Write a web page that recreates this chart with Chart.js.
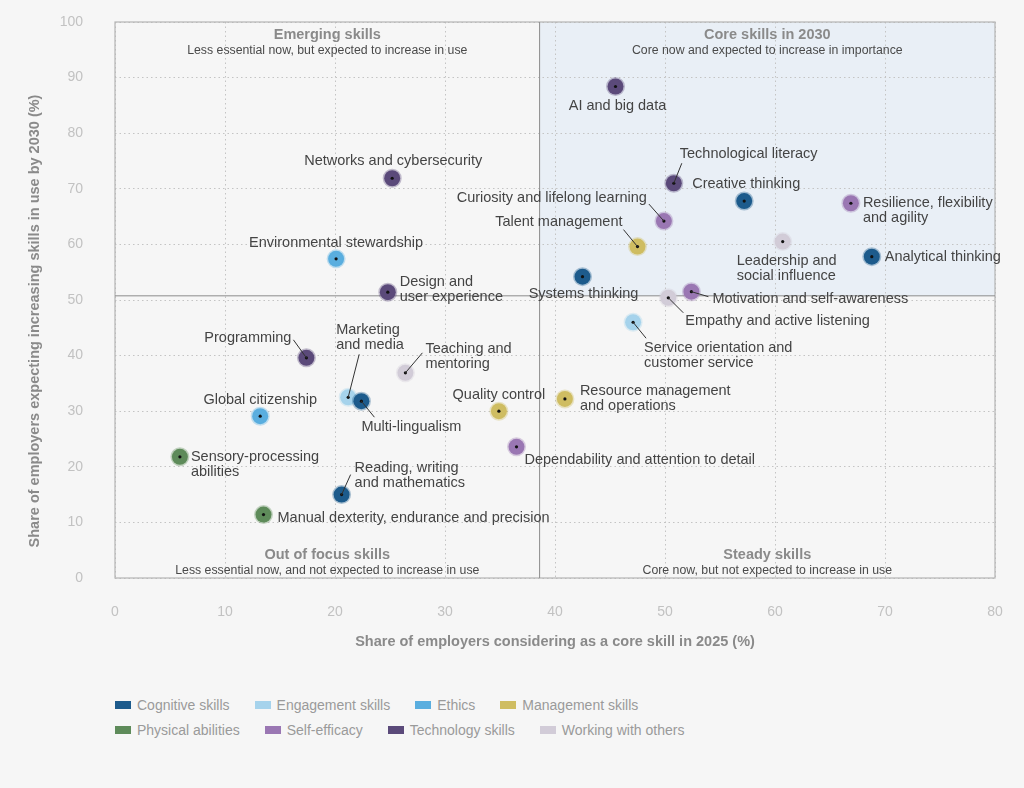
<!DOCTYPE html>
<html>
<head>
<meta charset="utf-8">
<script src="https://cdn.jsdelivr.net/npm/chart.js@4.4.1/dist/chart.umd.min.js"></script>
<style>
  html, body { margin: 0; padding: 0; background: #f6f6f6; }
  body { width: 1024px; height: 788px; overflow: hidden; font-family: "Liberation Sans", Arial, sans-serif; }
  #wrap { position: relative; width: 1024px; height: 680px; }
  #legend { margin-left: 115px; margin-top: 12px; }
  .row { display: flex; gap: 25px; height: 25px; align-items: center; }
  .item { display: flex; align-items: center; font-size: 14px; color: #9a9a9a; }
  .box { width: 16px; height: 8px; margin-right: 6px; }
</style>
</head>
<body>
<div id="wrap"><canvas id="skillsChart" width="1024" height="680"></canvas></div>
<div id="legend"></div>
<script>
const categories = [
  "Cognitive skills", "Engagement skills", "Ethics", "Management skills",
  "Physical abilities", "Self-efficacy", "Technology skills", "Working with others",
];
const categoryColors = [
  "#1d5b8c", "#a6d3ec", "#5aaedf", "#cfbd62",
  "#5e8b5a", "#9a77b3", "#5b4a7a", "#d2ccd8",
];

const skills = [
  "AI and big data", "Networks and cybersecurity", "Technological literacy",
  "Creative thinking", "Resilience, flexibility and agility", "Curiosity and lifelong learning",
  "Talent management", "Leadership and social influence", "Analytical thinking",
  "Environmental stewardship", "Systems thinking", "Design and user experience",
  "Motivation and self-awareness", "Empathy and active listening",
  "Service orientation and customer service", "Programming", "Teaching and mentoring",
  "Marketing and media", "Multi-lingualism", "Resource management and operations",
  "Quality control", "Global citizenship", "Dependability and attention to detail",
  "Sensory-processing abilities", "Reading, writing and mathematics",
  "Manual dexterity, endurance and precision",
];
const skillCategory = [
  "Technology skills", "Technology skills", "Technology skills",
  "Cognitive skills", "Self-efficacy", "Self-efficacy",
  "Management skills", "Working with others", "Cognitive skills",
  "Ethics", "Cognitive skills", "Technology skills",
  "Self-efficacy", "Working with others",
  "Engagement skills", "Technology skills", "Working with others",
  "Engagement skills", "Cognitive skills", "Management skills",
  "Management skills", "Ethics", "Self-efficacy",
  "Physical abilities", "Cognitive skills",
  "Physical abilities",
];
// Share of employers considering it a core skill in 2025 (%)
const coreShare2025 = [
  45.5, 25.2, 50.8, 57.2, 66.9, 49.9, 47.5, 60.7, 68.8, 20.1, 42.5, 24.8, 52.4,
  50.3, 47.1, 17.4, 26.4, 21.2, 22.4, 40.9, 34.9, 13.2, 36.5, 5.9, 20.6, 13.5,
];
// Share of employers expecting increasing use by 2030 (%)
const increaseShare2030 = [
  88.4, 71.9, 71.0, 67.8, 67.4, 64.2, 59.6, 60.5, 57.8, 57.4, 54.2, 51.4, 51.5,
  50.4, 46.0, 39.6, 36.9, 32.5, 31.8, 32.2, 30.0, 29.1, 23.6, 21.8, 15.0, 11.4,
];
const coreThresholdX = 38.6;
const coreThresholdY = 50.75;

const xTicks = [0, 10, 20, 30, 40, 50, 60, 70, 80];
const yTicks = [0, 10, 20, 30, 40, 50, 60, 70, 80, 90, 100];

const quadrants = [
  { title: "Emerging skills", sub: "Less essential now, but expected to increase in use", side: "left", top: true },
  { title: "Core skills in 2030", sub: "Core now and expected to increase in importance", side: "right", top: true },
  { title: "Out of focus skills", sub: "Less essential now, and not expected to increase in use", side: "left", top: false },
  { title: "Steady skills", sub: "Core now, but not expected to increase in use", side: "right", top: false },
];

// Where each label sits relative to its point (pixels)
const labelLayout = {
  "AI and big data": { dx: 2, dy: 20, align: "center" },
  "Networks and cybersecurity": { dx: 1, dy: -17, align: "center" },
  "Technological literacy": { dx: 6, dy: -29, align: "left", leader: [8, -20] },
  "Creative thinking": { dx: -52, dy: -17, align: "left" },
  "Resilience, flexibility and agility": { dx: 12, dy: 0, align: "left", lines: ["Resilience, flexibility", "and agility"] },
  "Curiosity and lifelong learning": { dx: -17, dy: -23, align: "right", leader: [-15, -17] },
  "Talent management": { dx: -15, dy: -25, align: "right", leader: [-14, -17] },
  "Leadership and social influence": { dx: -46, dy: 19, align: "left", lines: ["Leadership and", "social influence"] },
  "Analytical thinking": { dx: 13, dy: 0, align: "left" },
  "Environmental stewardship": { dx: 0, dy: -16, align: "center" },
  "Systems thinking": { dx: 1, dy: 17, align: "center" },
  "Design and user experience": { dx: 12, dy: -10, align: "left", lines: ["Design and", "user experience"] },
  "Motivation and self-awareness": { dx: 21, dy: 7, align: "left", leader: [17, 5] },
  "Empathy and active listening": { dx: 17, dy: 23, align: "left", leader: [15, 15] },
  "Service orientation and customer service": { dx: 11, dy: 26, align: "left", lines: ["Service orientation and", "customer service"], leader: [13, 16] },
  "Programming": { dx: -15, dy: -20, align: "right", leader: [-13, -18] },
  "Teaching and mentoring": { dx: 20, dy: -24, align: "left", lines: ["Teaching and", "mentoring"], leader: [17, -20] },
  "Marketing and media": { dx: -12, dy: -67, align: "left", lines: ["Marketing", "and media"], leader: [11, -43] },
  "Multi-lingualism": { dx: 0, dy: 26, align: "left", leader: [13, 16] },
  "Resource management and operations": { dx: 15, dy: -8, align: "left", lines: ["Resource management", "and operations"] },
  "Quality control": { dx: 0, dy: -16, align: "center" },
  "Global citizenship": { dx: 0, dy: -16, align: "center" },
  "Dependability and attention to detail": { dx: 8, dy: 13, align: "left" },
  "Sensory-processing abilities": { dx: 11, dy: 0, align: "left", lines: ["Sensory-processing", "abilities"] },
  "Reading, writing and mathematics": { dx: 13, dy: -27, align: "left", lines: ["Reading, writing", "and mathematics"], leader: [9, -20] },
  "Manual dexterity, endurance and precision": { dx: 14, dy: 3, align: "left" },
};

const FONT = '"Liberation Sans", Arial, sans-serif';

const hexToRgba = (hex, alpha) => {
  const n = parseInt(hex.slice(1), 16);
  return `rgba(${(n >> 16) & 255}, ${(n >> 8) & 255}, ${n & 255}, ${alpha})`;
};

const datasets = categories.map((category, c) => {
  const points = [];
  skills.forEach((name, i) => {
    if (skillCategory[i] === category) {
      points.push({ x: coreShare2025[i], y: increaseShare2030[i], name });
    }
  });
  return {
    label: category,
    data: points,
    backgroundColor: categoryColors[c],
    borderColor: hexToRgba(categoryColors[c], 0.35),
    borderWidth: 3,
    pointRadius: 8,
    pointHoverRadius: 8,
  };
});

const quadrantPlugin = {
  id: "quadrants",
  beforeDraw(chart) {
    const { ctx, chartArea: a, scales: { x, y } } = chart;
    const cx = x.getPixelForValue(coreThresholdX);
    const cy = y.getPixelForValue(coreThresholdY);
    ctx.save();
    ctx.fillStyle = "#f6f6f6";
    ctx.fillRect(0, 0, chart.width, chart.height);
    ctx.fillStyle = "#e9eff6";
    ctx.fillRect(cx, a.top, a.right - cx, cy - a.top);
    ctx.restore();
  },
  beforeDatasetsDraw(chart) {
    const { ctx, chartArea: a, scales: { x, y } } = chart;
    const cx = x.getPixelForValue(coreThresholdX);
    const cy = y.getPixelForValue(coreThresholdY);
    ctx.save();

    // Plot frame
    ctx.strokeStyle = "#b4b4b4";
    ctx.lineWidth = 1.2;
    ctx.strokeRect(a.left, a.top, a.right - a.left, a.bottom - a.top);

    // Quadrant dividers
    ctx.strokeStyle = "#8c8c8c";
    ctx.lineWidth = 1;
    ctx.beginPath();
    ctx.moveTo(cx, a.top);
    ctx.lineTo(cx, a.bottom);
    ctx.moveTo(a.left, cy);
    ctx.lineTo(a.right, cy);
    ctx.stroke();

    // Quadrant titles
    ctx.textAlign = "center";
    ctx.textBaseline = "middle";
    quadrants.forEach((q) => {
      const mid = q.side === "left" ? (a.left + cx) / 2 : (cx + a.right) / 2;
      const ty = q.top ? a.top + 12.5 : a.bottom - 23;
      ctx.font = `bold 14.5px ${FONT}`;
      ctx.fillStyle = "#8a8a8a";
      ctx.fillText(q.title, mid, ty);
      ctx.font = `12.3px ${FONT}`;
      ctx.fillStyle = "#4a4a4a";
      ctx.fillText(q.sub, mid, ty + 16);
    });

    // Axis titles
    ctx.font = `bold 14.5px ${FONT}`;
    ctx.fillStyle = "#8a8a8a";
    ctx.fillText("Share of employers considering as a core skill in 2025 (%)", (a.left + a.right) / 2, a.bottom + 64);
    ctx.translate(35, a.top + 299);
    ctx.rotate(-Math.PI / 2);
    ctx.fillText("Share of employers expecting increasing skills in use by 2030 (%)", 0, 0);
    ctx.restore();
  },
  afterDatasetsDraw(chart) {
    const { ctx } = chart;
    ctx.save();
    chart.data.datasets.forEach((ds, d) => {
      chart.getDatasetMeta(d).data.forEach((el, i) => {
        const px = el.x;
        const py = el.y;
        const name = ds.data[i].name;
        const layout = labelLayout[name] || { dx: 12, dy: 0, align: "left" };

        // Centre dot
        ctx.fillStyle = "#111";
        ctx.beginPath();
        ctx.arc(px, py, 1.6, 0, Math.PI * 2);
        ctx.fill();

        // Leader line
        if (layout.leader) {
          ctx.strokeStyle = "#333";
          ctx.lineWidth = 1;
          ctx.beginPath();
          ctx.moveTo(px, py);
          ctx.lineTo(px + layout.leader[0], py + layout.leader[1]);
          ctx.stroke();
        }

        // Label text
        const lines = layout.lines || [name];
        ctx.font = `14.5px ${FONT}`;
        ctx.fillStyle = "#444";
        ctx.textAlign = layout.align;
        ctx.textBaseline = "middle";
        lines.forEach((line, l) => {
          ctx.fillText(line, px + layout.dx, py + layout.dy + l * 15);
        });
      });
    });
    ctx.restore();
  },
};

new Chart(document.getElementById("skillsChart"), {
  type: "scatter",
  data: { datasets },
  options: {
    responsive: false,
    animation: false,
    layout: { autoPadding: false, padding: { left: 0, right: 29, top: 22, bottom: 0 } },
    plugins: {
      legend: { display: false },
      tooltip: { enabled: false },
    },
    scales: {
      x: {
        min: 0,
        max: 80,
        afterBuildTicks: (scale) => {
          scale.ticks = xTicks.map((value) => ({ value }));
        },
        afterFit: (scale) => {
          // Fixed axis band; tick padding should not push the plot inwards
          scale.height = 102;
          scale.paddingLeft = 0;
          scale.paddingRight = 0;
        },
        grid: { color: "#c4c4c4", drawTicks: false },
        border: { display: false, dash: [1.5, 3] },
        ticks: { color: "#c2c2c2", padding: 26, font: { family: FONT, size: 14 } },
      },
      y: {
        min: 0,
        max: 100,
        afterBuildTicks: (scale) => {
          scale.ticks = yTicks.map((value) => ({ value }));
        },
        afterFit: (scale) => {
          scale.width = 115;
          scale.paddingTop = 0;
          scale.paddingBottom = 0;
        },
        grid: { color: "#c4c4c4", drawTicks: false },
        border: { display: false, dash: [1.5, 3] },
        ticks: { color: "#c2c2c2", padding: 32, font: { family: FONT, size: 14 } },
      },
    },
  },
  plugins: [quadrantPlugin],
});

// Legend in two rows below the chart
const legend = document.getElementById("legend");
[categories.slice(0, 4), categories.slice(4)].forEach((rowCats) => {
  const row = document.createElement("div");
  row.className = "row";
  rowCats.forEach((cat) => {
    const item = document.createElement("div");
    item.className = "item";
    const box = document.createElement("span");
    box.className = "box";
    box.style.background = categoryColors[categories.indexOf(cat)];
    item.appendChild(box);
    item.appendChild(document.createTextNode(cat));
    row.appendChild(item);
  });
  legend.appendChild(row);
});
</script>
</body>
</html>
